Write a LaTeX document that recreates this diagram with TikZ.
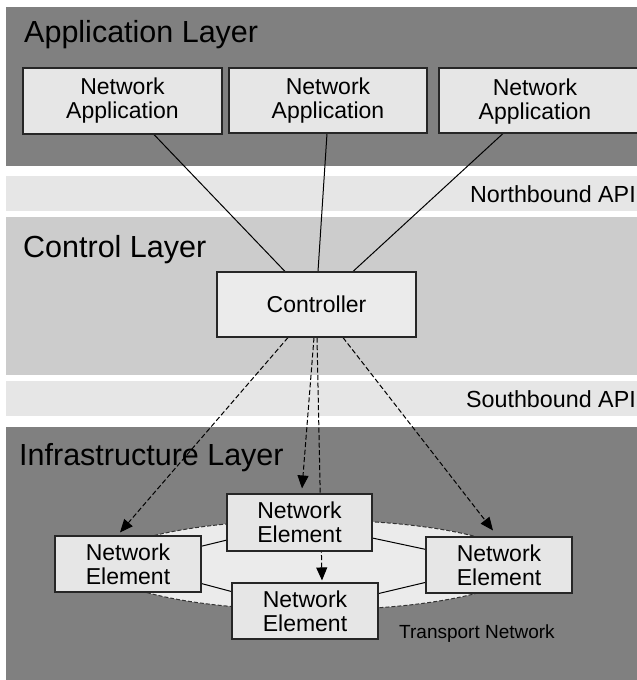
\documentclass[tikz,border=0pt]{standalone}
\usepackage{fontspec}
\setmainfont{Liberation Sans}
\usetikzlibrary{shapes.geometric,arrows.meta,calc}
\definecolor{darkband}{HTML}{808080}
\definecolor{lightband}{HTML}{E6E6E6}
\definecolor{ctrlband}{HTML}{CCCCCC}
\definecolor{boxfill}{HTML}{E6E6E6}
\definecolor{ctrlfill}{HTML}{EBEBEB}
\definecolor{tnfill}{HTML}{EBEBEB}
\pgfdeclarelayer{bg}
\pgfdeclarelayer{mid}
\pgfsetlayers{bg,mid,main}
\begin{document}
\begin{tikzpicture}[x=1bp,y=-1bp,
  boxnode/.style={draw=black!85, line width=1.1bp, fill=boxfill, rectangle, inner sep=0pt, align=center, font=\fontsize{23bp}{24bp}\selectfont},
  boxtext/.style={inner sep=0pt, align=center, font=\fontsize{23bp}{24bp}\selectfont},
  layertitle/.style={anchor=base west, inner sep=0pt, font=\fontsize{30.5bp}{31bp}\selectfont},
  apilabel/.style={anchor=base east, inner sep=0pt, font=\fontsize{23.3bp}{24bp}\selectfont},
  link/.style={draw=black, line width=1bp},
  ctrlarrow/.style={draw=black, line width=1bp, dash pattern=on 5bp off 2.5bp, -{Triangle[length=13bp,width=11bp]}},
]
\useasboundingbox (0,0) rectangle (637,680);
\begin{pgfonlayer}{bg}
\fill[white] (0,0) rectangle (637,680);
\fill[darkband] (6,7) rectangle (640,166);
\fill[lightband] (6,176) rectangle (640,211);
\fill[ctrlband] (6,217) rectangle (640,375);
\fill[lightband] (6,381) rectangle (640,416);
\fill[darkband] (6,427) rectangle (640,682);
\node[layertitle] (tapp) at (24,43) {Application Layer};
\node[layertitle] (tctl) at (23,257) {Control Layer};
\node[layertitle] (tinf) at (19,465) {Infrastructure Layer};
\node[apilabel] (nb) at (636,202) {Northbound API};
\node[apilabel] (sb) at (636,407) {Southbound API};
\node[anchor=base west, inner sep=0pt, font=\fontsize{19bp}{20bp}\selectfont] (tnl) at (399,638) {Transport Network};
\end{pgfonlayer}

% main nodes
\node[boxnode, minimum width=199bp, minimum height=66bp] (app1) at (122.5,101) {Network\\Application};
\node[boxnode, minimum width=198bp, minimum height=65bp] (app2) at (328,100.5) {Network\\Application};
\node[boxnode, minimum width=201bp, minimum height=65bp] (app3) at (539.5,100.5) {};
\node[boxtext] (app3t) at (535,101.5) {Network\\Application};
\node[boxnode, fill=ctrlfill, minimum width=199bp, minimum height=65bp] (ctrl) at (316.5,304.5) {Controller};
\node[boxnode, minimum width=146bp, minimum height=56bp] (nel) at (128,564) {Network\\Element};
\node[boxnode, minimum width=145bp, minimum height=57bp] (net) at (299.5,522.5) {Network\\Element};
\node[boxnode, minimum width=146bp, minimum height=56bp] (neb) at (305,611) {Network\\Element};
\node[boxnode, minimum width=146bp, minimum height=56bp] (ner) at (499,565) {Network\\Element};

\begin{pgfonlayer}{mid}
\node[ellipse, draw=black!80, fill=tnfill, line width=1bp, dash pattern=on 4bp off 2bp, minimum width=420bp, minimum height=90bp, inner sep=0pt] (tn) at (313,565) {};
\draw[link] (nel) -- (net);
\draw[link] (nel) -- (neb);
\draw[link] (net) -- (ner);
\draw[link] (neb) -- (ner);
\draw[link] ([xshift=31.5bp]app1.south) -- ([xshift=-31.5bp]ctrl.north);
\draw[link] ([xshift=-1bp]app2.south) -- ([xshift=1.5bp]ctrl.north);
\draw[link] ([xshift=-36.5bp]app3.south) -- ([xshift=36.5bp]ctrl.north);
\draw[ctrlarrow] ([xshift=-28.5bp]ctrl.south) -- ([xshift=-8bp,yshift=3bp]nel.north);
\draw[ctrlarrow] ([xshift=-2.5bp]ctrl.south) -- ([xshift=2.5bp,yshift=5bp]net.north);
\draw[ctrlarrow] ([xshift=0.5bp]ctrl.south) -- ([xshift=17bp,yshift=2bp]neb.north);
\draw[ctrlarrow] ([xshift=26.5bp]ctrl.south) -- ([xshift=-6bp,yshift=6bp]ner.north);
\end{pgfonlayer}
\end{tikzpicture}
\end{document}
